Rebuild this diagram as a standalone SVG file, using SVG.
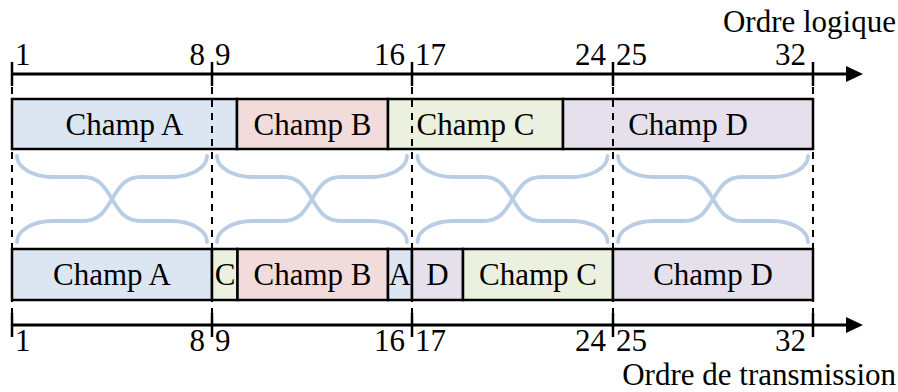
<svg xmlns="http://www.w3.org/2000/svg" width="898" height="392" viewBox="0 0 898 392">
  <style>
    text { font-family: "Liberation Serif", "Times New Roman", serif; font-size: 31px; fill: #000; }
    .mid { text-anchor: middle; }
    .end { text-anchor: end; }
    .box { stroke: #000; stroke-width: 2.5; }
    .fa { fill: #dce6f2; }
    .fb { fill: #f2dcdb; }
    .fc { fill: #ebf1de; }
    .fd { fill: #e5e0ec; }
    .axis { stroke: #000; stroke-width: 3; fill: none; }
    .tick { stroke: #000; stroke-width: 2.5; }
    .dash { stroke: #000; stroke-width: 2; stroke-dasharray: 7 6; fill: none; }
    .swap { stroke: #b9cde5; stroke-width: 3.8; fill: none; stroke-linecap: round; }
  </style>
  <defs>
    <!-- crossing S-curves for one byte segment, relative to the segment's left tick -->
    <g id="cross">
      <path class="swap" d="M 5 156 C 5 167.6 21.1 177 41 177 L 71 177 C 88 177 93 188 100 199 C 107 210 112 221 129 221 L 159 221 C 178.9 221 195 230.4 195 242"/>
      <path class="swap" d="M 195 156 C 195 167.6 178.9 177 159 177 L 129 177 C 112 177 107 188 100 199 C 93 210 88 221 71 221 L 41 221 C 21.1 221 5 230.4 5 242"/>
    </g>
  </defs>

  <!-- logical order axis -->
  <g id="axis-top">
    <line class="axis" x1="12" y1="74" x2="848" y2="74"/>
    <path d="M846 66 L863 74 L846 82 Z" fill="#000"/>
    <line class="tick" x1="12" y1="62" x2="12" y2="86"/>
    <line class="tick" x1="212" y1="62" x2="212" y2="86"/>
    <line class="tick" x1="412" y1="62" x2="412" y2="86"/>
    <line class="tick" x1="613" y1="62" x2="613" y2="86"/>
    <line class="tick" x1="813" y1="62" x2="813" y2="86"/>
    <text x="15" y="65">1</text>
    <text class="end" x="205" y="65">8</text>
    <text x="215" y="65">9</text>
    <text class="end" x="405" y="65">16</text>
    <text x="415" y="65">17</text>
    <text class="end" x="606" y="65">24</text>
    <text x="616" y="65">25</text>
    <text class="end" x="806" y="65">32</text>
    <text class="end" x="896" y="32">Ordre logique</text>
  </g>

  <!-- fields in logical order -->
  <g id="top-champ-a"><rect class="box fa" x="12" y="99" width="225" height="50"/><text class="mid" x="124.5" y="135">Champ A</text></g>
  <g id="top-champ-b"><rect class="box fb" x="237" y="99" width="151" height="50"/><text class="mid" x="312.5" y="135">Champ B</text></g>
  <g id="top-champ-c"><rect class="box fc" x="388" y="99" width="175" height="50"/><text class="mid" x="475.5" y="135">Champ C</text></g>
  <g id="top-champ-d"><rect class="box fd" x="563" y="99" width="250" height="50"/><text class="mid" x="688" y="135">Champ D</text></g>

  <!-- fields in transmission order -->
  <g id="bot-champ-a"><rect class="box fa" x="12" y="249" width="200" height="51"/><text class="mid" x="112" y="285">Champ A</text></g>
  <g id="bot-c"><rect class="box fc" x="212" y="249" width="25.5" height="51"/><text class="mid" x="225" y="285">C</text></g>
  <g id="bot-champ-b"><rect class="box fb" x="237.5" y="249" width="150.5" height="51"/><text class="mid" x="312.5" y="285">Champ B</text></g>
  <g id="bot-a"><rect class="box fa" x="388" y="249" width="24" height="51"/><text class="mid" x="400" y="285">A</text></g>
  <g id="bot-d"><rect class="box fd" x="412" y="249" width="51" height="51"/><text class="mid" x="437.5" y="285">D</text></g>
  <g id="bot-champ-c"><rect class="box fc" x="463" y="249" width="150" height="51"/><text class="mid" x="538" y="285">Champ C</text></g>
  <g id="bot-champ-d"><rect class="box fd" x="613" y="249" width="200" height="51"/><text class="mid" x="713" y="285">Champ D</text></g>

  <!-- byte boundaries and byte swaps -->
  <g id="connectors">
    <line class="dash" x1="12" y1="74" x2="12" y2="325"/>
    <line class="dash" x1="212" y1="74" x2="212" y2="325"/>
    <line class="dash" x1="412" y1="74" x2="412" y2="325"/>
    <line class="dash" x1="613" y1="74" x2="613" y2="325"/>
    <line class="dash" x1="813" y1="74" x2="813" y2="325"/>
    <use href="#cross" x="12" y="0"/>
    <use href="#cross" x="212" y="0"/>
    <use href="#cross" x="412.5" y="0"/>
    <use href="#cross" x="613" y="0"/>
  </g>

  <!-- transmission order axis -->
  <g id="axis-bottom">
    <line class="axis" x1="12" y1="325" x2="848" y2="325"/>
    <path d="M846 317 L863 325 L846 333 Z" fill="#000"/>
    <line class="tick" x1="12" y1="313" x2="12" y2="337"/>
    <line class="tick" x1="212" y1="313" x2="212" y2="337"/>
    <line class="tick" x1="412" y1="313" x2="412" y2="337"/>
    <line class="tick" x1="613" y1="313" x2="613" y2="337"/>
    <line class="tick" x1="813" y1="313" x2="813" y2="337"/>
    <text x="15" y="350.5">1</text>
    <text class="end" x="205" y="350.5">8</text>
    <text x="215" y="350.5">9</text>
    <text class="end" x="405" y="350.5">16</text>
    <text x="415" y="350.5">17</text>
    <text class="end" x="606" y="350.5">24</text>
    <text x="616" y="350.5">25</text>
    <text class="end" x="806" y="350.5">32</text>
    <text class="end" x="896" y="384.5">Ordre de transmission</text>
  </g>
</svg>
